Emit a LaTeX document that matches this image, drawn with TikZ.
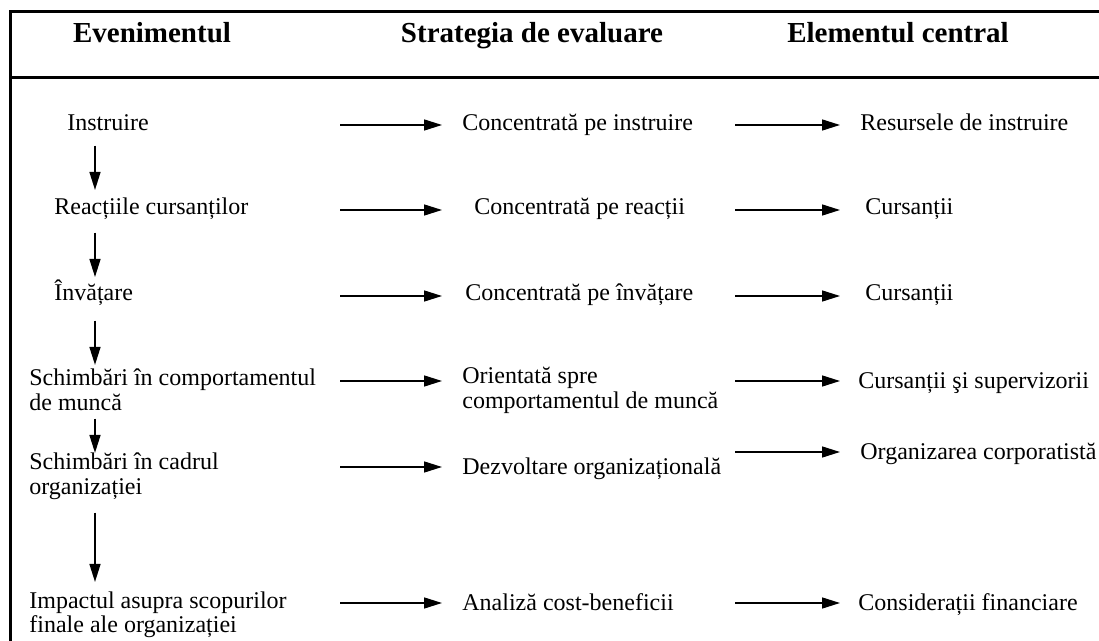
\documentclass[tikz,border=0pt]{standalone}
\usepackage{fontspec}
\setmainfont{Liberation Serif}
\usetikzlibrary{
  arrows.meta,
  positioning
}
\tikzset{>={Triangle[length=9pt,width=5.5pt]}}

\begin{document}
\begin{tikzpicture}[x=0.5pt,y=-0.5pt,
  head/.style={font=\fontsize{14.5}{17}\selectfont\bfseries,anchor=base,inner sep=0pt},
  txt/.style={font=\fontsize{12}{12.5}\selectfont,anchor=base west,align=left,inner sep=0pt},
  flow/.style={->,line width=0.75pt},
  frame/.style={line width=1.5pt}]
\useasboundingbox (0,0) rectangle (1099,641);
\draw[frame] (1099,12) -| (10,641);
\draw[frame] (10,78) -- (1099,78);
% column heads
\node[head] (h1) at (152,43) {Evenimentul};
\node[head] (h2) at (532,43) {Strategia de evaluare};
\node[head] (h3) at (898,43) {Elementul central};
% events (two-line nodes sit on their last line)
\node[txt] (e1) at (67,131) {Instruire};
\node[txt] (e2) at (54,215) {Reacțiile cursanților};
\node[txt] (e3) at (54,301) {Învățare};
\node[txt] (e4) at (29,411) {Schimbări în comportamentul\\de muncă};
\node[txt] (e5) at (29,495) {Schimbări în cadrul\\organizației};
\node[txt] (e6) at (29,633) {Impactul asupra scopurilor\\finale ale organizației};
% strategies
\node[txt] (s1) at (462,131) {Concentrată pe instruire};
\node[txt] (s2) at (474,215) {Concentrată pe reacții};
\node[txt] (s3) at (465,301) {Concentrată pe învățare};
\node[txt] (s4) at (462,409) {Orientată spre\\comportamentul de muncă};
\node[txt] (s5) at (462,475) {Dezvoltare organizațională};
\node[txt] (s6) at (462,611) {Analiză cost-beneficii};
% central elements
\node[txt] (c1) at (860,131) {Resursele de instruire};
\node[txt] (c2) at (865,215) {Cursanții};
\node[txt] (c3) at (865,301) {Cursanții};
\node[txt] (c4) at (858,389) {Cursanții şi supervizorii};
\node[txt] (c5) at (860,460) {Organizarea corporatistă};
\node[txt] (c6) at (858,611) {Considerații financiare};
% down the events
\coordinate (vx) at (95,0);
\draw[flow,shorten <=7pt,shorten >=4pt] (e1.south -| vx) -- (e2.north -| vx);
\draw[flow,shorten <=6pt,shorten >=1.5pt] (e2.south -| vx) -- (e3.north -| vx);
\draw[flow,shorten <=7pt,shorten >=2pt] (e3.south -| vx) -- (e4.north -| vx);
\draw[flow,shorten <=3.5pt,shorten >=0pt] (e4.south -| vx) -- (e5.north -| vx);
\draw[flow,shorten <=6pt,shorten >=4.5pt] (e5.south -| vx) -- (e6.north -| vx);
% events to strategies
\coordinate (a1) at (340,125);
\coordinate (a2) at (340,210);
\coordinate (a3) at (340,296);
\coordinate (a4) at (340,381);
\coordinate (a5) at (340,467);
\coordinate (a6) at (340,603);
\draw[flow,shorten >=10pt] (a1) -- (a1 -| s1.west);
\draw[flow,shorten >=16pt] (a2) -- (a2 -| s2.west);
\draw[flow,shorten >=11.5pt] (a3) -- (a3 -| s3.west);
\draw[flow,shorten >=10pt] (a4) -- (a4 -| s4.west);
\draw[flow,shorten >=10pt] (a5) -- (a5 -| s5.west);
\draw[flow,shorten >=10pt] (a6) -- (a6 -| s6.west);
% strategies to central elements
\coordinate (b1) at (735,125);
\coordinate (b2) at (735,210);
\coordinate (b3) at (735,296);
\coordinate (b4) at (735,381);
\coordinate (b5) at (735,452);
\coordinate (b6) at (735,603);
\draw[flow,shorten >=10pt] (b1) -- (b1 -| c1.west);
\draw[flow,shorten >=12.5pt] (b2) -- (b2 -| c2.west);
\draw[flow,shorten >=12.5pt] (b3) -- (b3 -| c3.west);
\draw[flow,shorten >=9pt] (b4) -- (b4 -| c4.west);
\draw[flow,shorten >=10pt] (b5) -- (b5 -| c5.west);
\draw[flow,shorten >=9pt] (b6) -- (b6 -| c6.west);
\end{tikzpicture}
\end{document}
